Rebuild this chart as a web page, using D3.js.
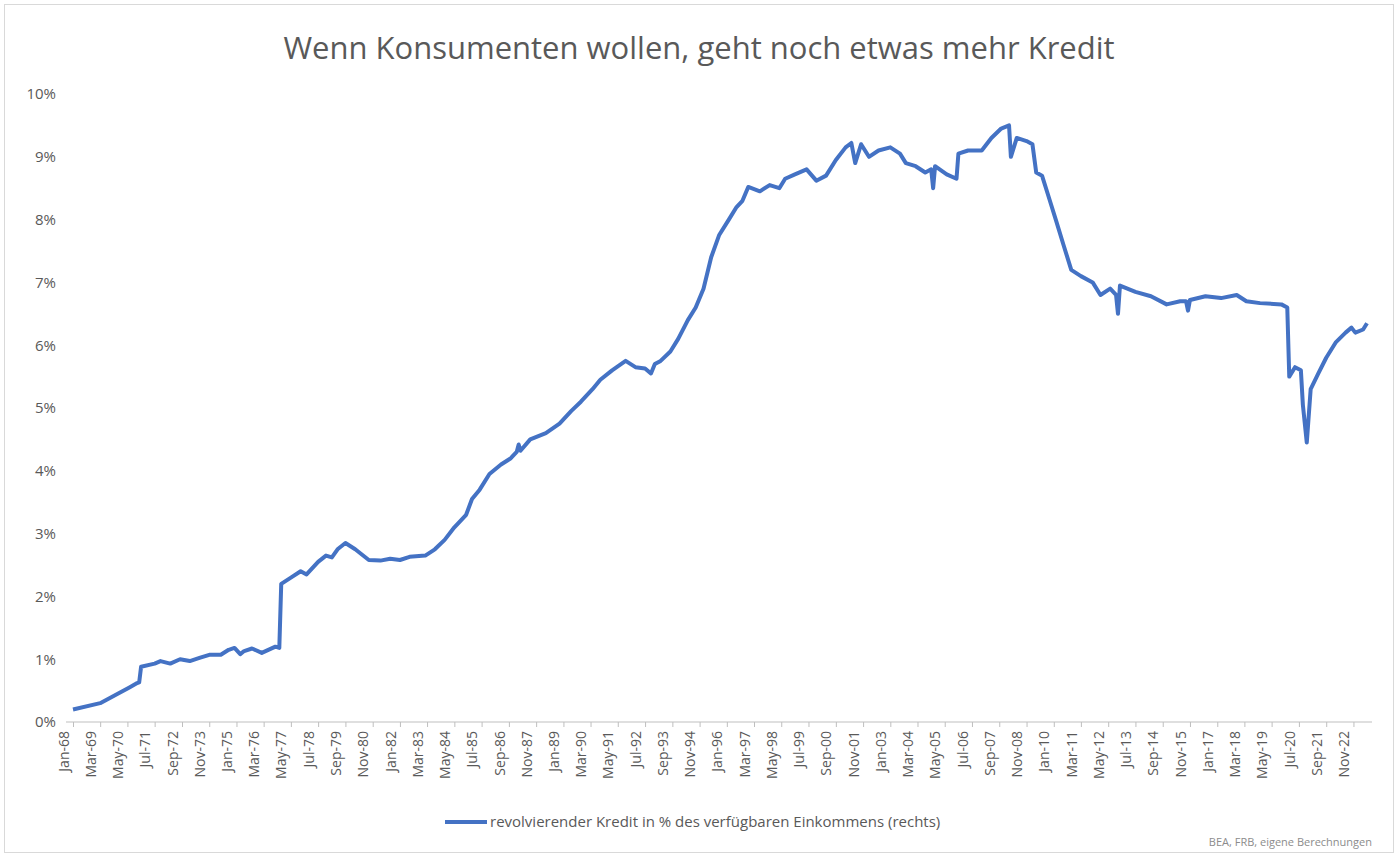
<!DOCTYPE html>
<html><head><meta charset="utf-8">
<script src="https://cdn.jsdelivr.net/npm/d3@7"></script>
<style>body{margin:0;background:#fff;font-family:"Open Sans",Carlito,"Liberation Sans",sans-serif}</style>
</head><body><svg id="c" width="1398" height="858"></svg>
<script>
const title = "Wenn Konsumenten wollen, geht noch etwas mehr Kredit";
const seriesName = "revolvierender Kredit in % des verfügbaren Einkommens (rechts)";
const sourceNote = "BEA, FRB, eigene Berechnungen";
// months since Jan-1968
const monthIdx = [0,14,23,29,33,34,35,42,45,50,55,60,65,70,76,80,83,86,88,92,97,104,106,107,112,117,120,126,130,133,136,140,145,152,158,163,168,173,181,186,191,196,202,205,209,214,220,225,228,229,230,235,243,250,256,261,267,271,277,284,289,294,297,299,302,307,311,316,320,324,328,332,337,341,344,347,353,358,363,366,371,377,382,387,392,397,400,402,405,409,414,420,425,428,433,438,441,442,443,449,454,455,460,467,472,477,481,482,485,490,493,495,498,502,505,509,513,518,524,528,533,536,537,538,546,554,562,569,572,573,574,582,590,598,603,610,621,624,625,628,631,632,634,636,640,644,649,654,657,659,663,665];
const values   = [0.2,0.3,0.45,0.55,0.62,0.63,0.88,0.93,0.97,0.93,1.0,0.97,1.02,1.07,1.07,1.15,1.18,1.08,1.13,1.17,1.1,1.2,1.18,2.2,2.3,2.4,2.35,2.55,2.65,2.62,2.75,2.85,2.75,2.58,2.57,2.6,2.58,2.63,2.65,2.75,2.9,3.1,3.3,3.55,3.7,3.95,4.1,4.2,4.3,4.42,4.32,4.5,4.6,4.75,4.95,5.1,5.3,5.45,5.6,5.75,5.65,5.63,5.55,5.7,5.75,5.9,6.1,6.4,6.6,6.9,7.4,7.75,8.0,8.2,8.3,8.52,8.45,8.55,8.5,8.65,8.72,8.8,8.62,8.7,8.95,9.15,9.22,8.9,9.2,9.0,9.1,9.15,9.05,8.9,8.85,8.75,8.8,8.5,8.85,8.72,8.65,9.05,9.1,9.1,9.3,9.45,9.5,9.0,9.3,9.25,9.2,8.75,8.7,8.3,8.0,7.6,7.2,7.1,7.0,6.8,6.9,6.8,6.5,6.95,6.85,6.78,6.65,6.7,6.7,6.55,6.72,6.78,6.75,6.8,6.7,6.67,6.65,6.6,5.5,5.65,5.6,5.05,4.45,5.3,5.55,5.8,6.05,6.2,6.28,6.2,6.25,6.35];
const yTicks = [0,1,2,3,4,5,6,7,8,9,10];
const tickStepMonths = 14;

const start = new Date(1968,0,1);
const data = monthIdx.map((m,i)=>({d:d3.timeMonth.offset(start,m), v:values[i]}));
const svg = d3.select("#c");
svg.append("rect").attr("x",4.5).attr("y",4.5).attr("width",1389).attr("height",848).attr("fill","#fff").attr("stroke","#d9d9d9");
const x = d3.scaleTime().domain([start, d3.timeMonth.offset(start,665)]).range([73,1367]);
const y = d3.scaleLinear().domain([0,10]).range([722,94]);
svg.append("text").attr("x",699).attr("y",59).attr("text-anchor","middle").attr("font-size",31).attr("fill","#595959").text(title);
const ya = svg.append("g").attr("transform","translate(62,0)").call(d3.axisLeft(y).tickValues(yTicks).tickFormat(d=>d+"%").tickSize(0).tickPadding(6));
ya.select(".domain").remove();
ya.selectAll("text").attr("font-size",15).attr("fill","#595959").attr("font-family","'Open Sans',sans-serif");
const xt = d3.range(0,659,tickStepMonths).map(m=>d3.timeMonth.offset(start,m));
const xa = svg.append("g").attr("transform","translate(0,722)").call(d3.axisBottom(x).tickValues(xt).tickFormat(d3.timeFormat("%b-%y")).tickSize(5));
xa.select(".domain").attr("stroke","#bfbfbf").attr("d","M66,0H1372");
xa.selectAll("line").attr("stroke","#bfbfbf");
xa.selectAll("text").attr("font-size",14).attr("fill","#595959").attr("font-family","'Open Sans',sans-serif")
  .attr("transform","rotate(-90)").attr("text-anchor","end").attr("dx","-7").attr("dy","-0.35em").attr("y",0).attr("x",-2);
svg.append("path").datum(data).attr("fill","none").attr("stroke","#4472C4").attr("stroke-width",4).attr("stroke-linejoin","round")
  .attr("d",d3.line().x(d=>x(d.d)).y(d=>y(d.v)));
svg.append("line").attr("x1",445).attr("x2",487).attr("y1",822).attr("y2",822).attr("stroke","#4472C4").attr("stroke-width",4);
svg.append("text").attr("x",490).attr("y",827).attr("font-size",15).attr("fill","#595959").text(seriesName);
svg.append("text").attr("x",1372).attr("y",846).attr("text-anchor","end").attr("font-size",11).attr("fill","#8c8c8c").text(sourceNote);
</script></body></html>
